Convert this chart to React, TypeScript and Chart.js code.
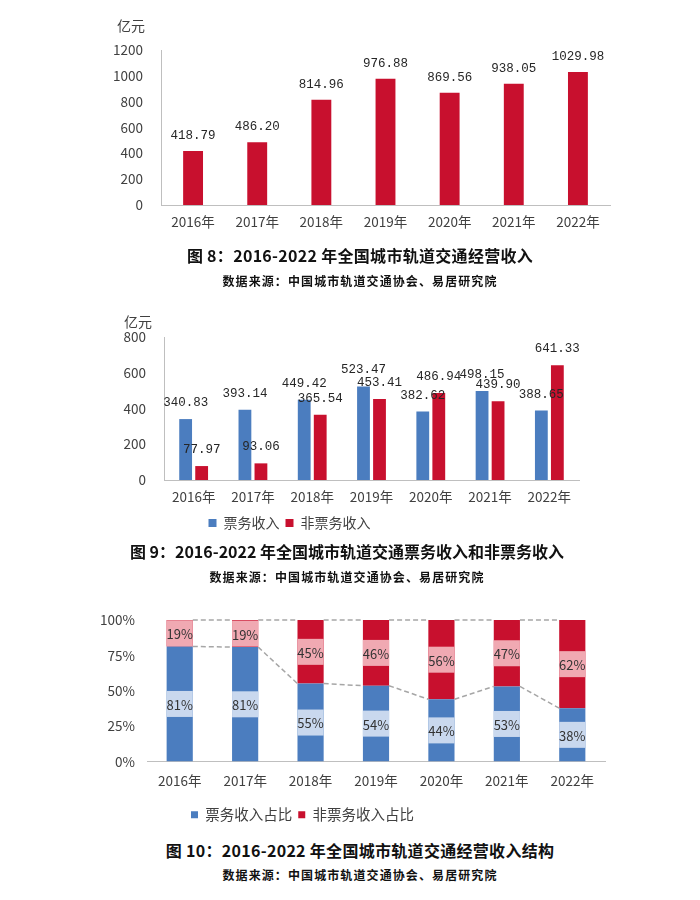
import React, { useEffect, useRef } from "react";
import { Chart, registerables } from "chart.js";
Chart.register(...registerables);

const years = ["2016年", "2017年", "2018年", "2019年", "2020年", "2021年", "2022年"];
const totalRevenue = [418.79, 486.2, 814.96, 976.88, 869.56, 938.05, 1029.98];
const ticketRevenue = [340.83, 393.14, 449.42, 523.47, 382.62, 498.15, 388.65];
const nonTicketRevenue = [77.97, 93.06, 365.54, 453.41, 486.94, 439.9, 641.33];
const ticketShare = [81.4, 80.9, 55.1, 53.6, 44.0, 53.1, 37.7];
const nonTicketShare = [18.6, 19.1, 44.9, 46.4, 56.0, 46.9, 62.3];

const chart1Max = 1200;
const chart2Max = 800;
const unitLabel = "亿元";
const legend2Labels = ["票务收入", "非票务收入"];
const legend3Labels = ["票务收入占比", "非票务收入占比"];
const caption8 = "图 8：2016-2022 年全国城市轨道交通经营收入";
const caption9 = "图 9：2016-2022 年全国城市轨道交通票务收入和非票务收入";
const caption10 = "图 10：2016-2022 年全国城市轨道交通经营收入结构";
const sourceText = "数据来源：中国城市轨道交通协会、易居研究院";

const BLUE = "#4b7dbf";
const RED = "#c8102e";
const LIGHT_BLUE = "#c9d8ee";
const PINK = "#f0a9b2";
const TICK = "#404040";
const AXIS = "#bfbfbf";
const SANS = "'Noto Sans CJK SC', 'Noto Sans', sans-serif";
const MONO = "'Liberation Mono', 'DejaVu Sans Mono', monospace";

function valueLabelPlugin(fontSize: number, offset: number) {
  return {
    id: "valueLabels",
    afterDatasetsDraw(chart: any) {
      const ctx = chart.ctx;
      ctx.save();
      ctx.font = `${fontSize}px ${MONO}`;
      ctx.fillStyle = "#262626";
      ctx.textAlign = "center";
      ctx.textBaseline = "bottom";
      chart.data.datasets.forEach((ds: any, di: number) => {
        const meta = chart.getDatasetMeta(di);
        meta.data.forEach((el: any, i: number) => {
          ctx.fillText(Number(ds.data[i]).toFixed(2), el.x, el.y - offset);
        });
      });
      ctx.restore();
    },
  };
}

const shareLabelPlugin = {
  id: "shareLabels",
  afterDatasetsDraw(chart: any) {
    const ctx = chart.ctx;
    ctx.save();
    const bgs = [LIGHT_BLUE, PINK];
    chart.data.datasets.forEach((ds: any, di: number) => {
      const meta = chart.getDatasetMeta(di);
      meta.data.forEach((el: any, i: number) => {
        const cy = (el.y + el.base) / 2;
        const w = el.width;
        ctx.fillStyle = bgs[di];
        ctx.fillRect(el.x - w / 2, cy - 13, w, 26);
        ctx.fillStyle = "#333333";
        ctx.font = `13px ${SANS}`;
        ctx.textAlign = "center";
        ctx.textBaseline = "middle";
        ctx.fillText(Math.round(ds.data[i]) + "%", el.x, cy + 1);
      });
    });
    ctx.restore();
  },
};

const seriesLinePlugin = {
  id: "seriesLines",
  afterDatasetsDraw(chart: any) {
    const ctx = chart.ctx;
    ctx.save();
    ctx.strokeStyle = "#a6a6a6";
    ctx.lineWidth = 1.5;
    ctx.setLineDash([5, 3]);
    chart.data.datasets.forEach((_ds: any, di: number) => {
      const meta = chart.getDatasetMeta(di);
      for (let i = 0; i < meta.data.length - 1; i++) {
        const a = meta.data[i];
        const b = meta.data[i + 1];
        ctx.beginPath();
        ctx.moveTo(a.x + a.width / 2, a.y);
        ctx.lineTo(b.x - b.width / 2, b.y);
        ctx.stroke();
      }
    });
    ctx.restore();
  },
};

function fixWidth(w: number) {
  return (s: any) => {
    s.width = w;
  };
}
function fixHeight(h: number) {
  return (s: any) => {
    s.height = h;
  };
}

const tickFont = { family: SANS, size: 13.5 };
const plainNumber = (v: any) => String(v);

function ChartCanvas({ config, top, height }: { config: () => any; top: number; height: number }) {
  const ref = useRef<HTMLCanvasElement>(null);
  useEffect(() => {
    if (!ref.current) return;
    const c = new Chart(ref.current, config());
    return () => c.destroy();
  }, []);
  return (
    <canvas
      ref={ref}
      width={700}
      height={height}
      style={{ position: "absolute", left: 0, top, width: 700, height }}
    />
  );
}

const config1 = () => ({
  type: "bar",
  data: {
    labels: years,
    datasets: [{ data: totalRevenue, backgroundColor: RED, barPercentage: 0.31, categoryPercentage: 1 }],
  },
  options: {
    animation: false,
    responsive: false,
    layout: { padding: { top: 50, right: 90, left: 0, bottom: 0 } },
    plugins: { legend: { display: false }, tooltip: { enabled: false } },
    scales: {
      x: {
        grid: { display: false, drawTicks: false },
        border: { color: AXIS, width: 1 },
        ticks: { font: tickFont, color: TICK, padding: 9 },
        afterFit: fixHeight(35),
      },
      y: {
        min: 0,
        max: chart1Max,
        grid: { display: false, drawTicks: false },
        border: { color: AXIS, width: 1 },
        ticks: { font: tickFont, color: TICK, stepSize: 200, padding: 18, callback: plainNumber },
        afterFit: fixWidth(161),
      },
    },
  },
  plugins: [valueLabelPlugin(12.5, 9)],
});

const config2 = () => ({
  type: "bar",
  data: {
    labels: years,
    datasets: [
      { label: legend2Labels[0], data: ticketRevenue, backgroundColor: BLUE, barPercentage: 0.8, categoryPercentage: 0.54 },
      { label: legend2Labels[1], data: nonTicketRevenue, backgroundColor: RED, barPercentage: 0.8, categoryPercentage: 0.54 },
    ],
  },
  options: {
    animation: false,
    responsive: false,
    layout: { padding: { top: 37, right: 121, left: 0, bottom: 0 } },
    plugins: {
      legend: {
        display: true,
        position: "bottom",
        labels: { font: { family: SANS, size: 14 }, color: TICK, boxWidth: 8, boxHeight: 8, padding: 6 },
      },
      tooltip: { enabled: false },
    },
    scales: {
      x: {
        grid: { display: false, drawTicks: false },
        border: { color: AXIS, width: 1 },
        ticks: { font: tickFont, color: TICK, padding: 9 },
        afterFit: fixHeight(30),
      },
      y: {
        min: 0,
        max: chart2Max,
        grid: { display: false, drawTicks: false },
        border: { color: AXIS, width: 1 },
        ticks: { font: tickFont, color: TICK, stepSize: 200, padding: 18, callback: plainNumber },
        afterFit: fixWidth(164),
      },
    },
  },
  plugins: [valueLabelPlugin(12.5, 10)],
});

const config3 = () => ({
  type: "bar",
  data: {
    labels: years,
    datasets: [
      { label: legend3Labels[0], data: ticketShare, backgroundColor: BLUE, barPercentage: 0.4, categoryPercentage: 1 },
      { label: legend3Labels[1], data: nonTicketShare, backgroundColor: RED, barPercentage: 0.4, categoryPercentage: 1 },
    ],
  },
  options: {
    animation: false,
    responsive: false,
    layout: { padding: { top: 19, right: 95, left: 0, bottom: 0 } },
    plugins: {
      legend: {
        display: true,
        position: "bottom",
        labels: { font: { family: SANS, size: 14.5 }, color: TICK, boxWidth: 7, boxHeight: 7, padding: 6 },
      },
      tooltip: { enabled: false },
    },
    scales: {
      x: {
        stacked: true,
        grid: { display: false, drawTicks: false },
        border: { color: AXIS, width: 1 },
        ticks: { font: tickFont, color: TICK, padding: 11 },
        afterFit: fixHeight(40),
      },
      y: {
        stacked: true,
        min: 0,
        max: 100,
        grid: { display: false, drawTicks: false },
        border: { display: false },
        ticks: { font: tickFont, color: TICK, stepSize: 25, padding: 12, callback: (v: any) => v + "%" },
        afterFit: fixWidth(147),
      },
    },
  },
  plugins: [seriesLinePlugin, shareLabelPlugin],
});

function Text({ text, cx, cy, size, weight, spacing = 0 }: any) {
  return (
    <div
      style={{
        position: "absolute",
        left: cx - 350,
        top: cy - 10,
        width: 700,
        height: 20,
        lineHeight: "20px",
        textAlign: "center",
        fontFamily: SANS,
        fontSize: size,
        fontWeight: weight,
        letterSpacing: spacing,
        color: "#111",
        whiteSpace: "nowrap",
      }}
    >
      {text}
    </div>
  );
}

export default function App() {
  return (
    <div style={{ position: "absolute", left: 0, top: 0, width: 700, height: 900, background: "#fff", overflow: "hidden" }}>
      <ChartCanvas config={config1} top={0} height={240} />
      <ChartCanvas config={config2} top={300} height={240} />
      <ChartCanvas config={config3} top={600} height={232} />
      <div style={{ position: "absolute", left: 117, top: 15, fontFamily: SANS, fontSize: 14, color: TICK, lineHeight: "20px" }}>{unitLabel}</div>
      <div style={{ position: "absolute", left: 124, top: 311, fontFamily: SANS, fontSize: 14, color: TICK, lineHeight: "20px" }}>{unitLabel}</div>
      <Text text={caption8} cx={360} cy={255} size={16} weight={700} spacing={0.3} />
      <Text text={sourceText} cx={360} cy={281} size={12} weight={700} spacing={1.1} />
      <Text text={caption9} cx={347} cy={551} size={16} weight={700} />
      <Text text={sourceText} cx={347} cy={577} size={12} weight={700} spacing={1.1} />
      <Text text={caption10} cx={360} cy={850} size={16} weight={700} spacing={0.3} />
      <Text text={sourceText} cx={360} cy={875} size={12} weight={700} spacing={1.1} />
    </div>
  );
}
